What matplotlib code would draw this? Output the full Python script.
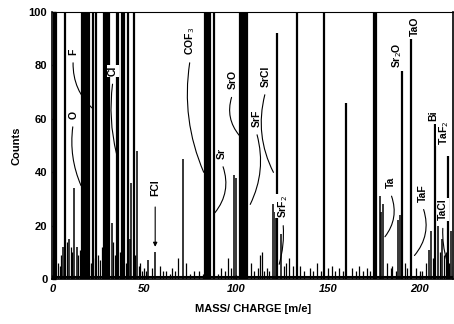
import matplotlib
matplotlib.use("Agg")
import matplotlib.pyplot as plt

plt.rcParams['font.family'] = ['Liberation Sans', 'DejaVu Sans']

# tall / labelled peaks (counts clipped at 100)
major_mass = [1, 1.6, 2, 7, 16, 16.6, 18, 19, 20, 22, 24, 28, 28.5, 29, 30, 31,
              35, 36, 38, 39, 41, 44.5, 83, 84, 85, 86, 88,
              102, 103, 104, 105, 106, 122, 133, 148, 160, 175, 176,
              190, 195, 208, 215]
major_counts = [100, 100, 100, 100, 100, 100, 100, 100, 100, 100, 100, 100, 100, 100, 100, 100,
                100, 100, 100, 100, 100, 100, 100, 100, 100, 100, 100,
                100, 100, 100, 100, 100, 92, 100, 100, 66, 100, 100,
                78, 90, 58, 46]

# medium peaks
mid_mass = [6, 9, 12, 13.5, 32.6, 42.4, 43, 46, 52, 56, 71, 99, 100, 120, 121, 124.5,
            178, 179, 180, 188, 189, 205, 206, 210, 212, 217]
mid_counts = [12, 15, 34, 12, 21, 15, 36, 48, 7, 10, 45, 39, 38, 28, 25, 17,
              31, 25, 28, 22, 24, 11, 18, 20, 15, 18]

# baseline grass
small_mass = [0.5, 3, 4, 5, 8, 10, 11, 14, 15, 17, 21, 23, 25, 26, 27, 33, 34, 37, 40, 45,
              47, 48, 49, 50, 51, 54, 58.7, 60, 62, 64, 65, 67, 68.5, 73, 75, 77, 80, 82,
              90, 92, 94, 95.6, 97, 108, 110, 112, 113, 114, 115, 117, 118, 126, 127, 129,
              131, 135, 137, 140, 142, 144, 146, 150, 152, 154, 156, 158, 163, 165, 167,
              169, 171, 173, 182, 184, 185, 187, 192, 193, 198, 200, 201, 203, 207, 211,
              213, 214, 216, 218]
small_counts = [8, 6, 5, 9, 14, 12, 10, 9, 11, 10, 6, 8, 9, 7, 12, 14, 9, 10, 6, 9,
                5, 6, 3, 4, 3, 4, 5, 3, 3, 2, 4, 3, 8, 6, 2, 3, 3, 2,
                2, 4, 3, 8, 4, 6, 3, 4, 9, 10, 3, 4, 3, 5, 6, 8,
                5, 5, 3, 4, 3, 6, 3, 4, 5, 3, 4, 3, 4, 3, 5,
                3, 4, 3, 6, 4, 5, 3, 6, 4, 4, 3, 3, 6, 8, 10,
                9, 10, 6, 5]

x_ticks = [0, 50, 100, 150, 200]
y_ticks = [0, 20, 40, 60, 80, 100]

fig = plt.figure(figsize=(4.54, 3.24), dpi=100)
ax = fig.add_axes([0.115, 0.139, 0.883, 0.824])

ax.vlines(major_mass, 0, major_counts, color='black', lw=1.6)
ax.vlines(mid_mass, 0, mid_counts, color='black', lw=1.1)
ax.vlines(small_mass, 0, small_counts, color='black', lw=0.9)
ax.axhline(0.8, color='black', lw=1.5)

ax.set_xlim(0, 218)
ax.set_ylim(0, 100)
ax.set_xticks(x_ticks)
ax.set_yticks(y_ticks)
ax.tick_params(direction='in', length=3, width=1, labelsize=8)
for t in ax.get_xticklabels():
    t.set_fontstyle('italic')
    t.set_fontweight('bold')
for t in ax.get_yticklabels():
    t.set_fontweight('bold')
for s in ax.spines.values():
    s.set_linewidth(1.2)
ax.spines['top'].set_linewidth(0.8)

ax.set_ylabel('Counts', fontsize=8, fontweight='bold', labelpad=5)
ax.set_xlabel('MASS/ CHARGE [m/e]', fontsize=8, fontweight='bold', labelpad=7)

box = dict(facecolor='white', edgecolor='none', pad=0.5)

# peak labels: text, text position, leader end, curvature
labels = [
    ('O', (11.4, 60), (16.3, 34), 0.15),
    ('F', (11.4, 84), (23.4, 63), 0.25),
    ('Cl', (33, 76), (35.3, 46), 0.1),
    ('COF$_3$', (75, 84), (83, 39), 0.15),
    ('Sr', (92.4, 45), (87.5, 24), -0.3),
    ('SrO', (98, 71), (102.7, 53), 0.3),
    ('SrF', (111, 57), (107, 27), -0.2),
    ('SrCl', (116, 72), (121, 39), 0.2),
    ('SrF$_2$', (125.5, 23), (123, 4.5), -0.1),
    ('Ta', (184, 34), (180, 15), -0.3),
    ('TaF', (201.5, 29), (196, 8), -0.3),
    ('TaCl', (212.5, 22), (215, 6), 0.1),
]
for txt, pos, end, rad in labels:
    ax.annotate('', xy=end, xytext=(pos[0], pos[1] - 2),
                arrowprops=dict(arrowstyle='-', lw=0.8, color='black',
                                connectionstyle='arc3,rad=%s' % rad))
    ax.text(pos[0], pos[1], txt, rotation=90, ha='center', va='bottom',
            fontsize=7.5, fontweight='bold', bbox=box)

# labels sitting on top of their own peak line
for txt, pos in [('Sr$_2$O', (187.5, 79)), ('TaO', (197, 91)), ('Bi', (207, 59)),
                 ('TaF$_2$', (213, 50))]:
    ax.text(pos[0], pos[1], txt, rotation=90, ha='center', va='bottom',
            fontsize=7.5, fontweight='bold', bbox=box)

ax.annotate('', xy=(56, 11), xytext=(56, 28),
            arrowprops=dict(arrowstyle='-|>', lw=0.8, color='black', mutation_scale=6))
ax.text(56, 31, 'FCl', rotation=90, ha='center', va='bottom', fontsize=7.5,
        fontweight='bold', bbox=box)

fig.savefig('out.png', dpi=100)
